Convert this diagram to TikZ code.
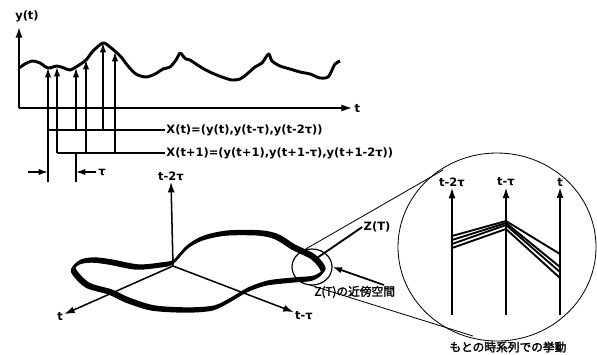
\documentclass[tikz,border=0pt]{standalone}
\usepackage{fontspec}
\setmainfont{DejaVu Sans}
\newfontfamily\jp[RawFeature={embolden=2}]{Noto Sans CJK JP}
\usetikzlibrary{arrows.meta, positioning, shapes.geometric}
\tikzset{
  axis/.style={line width=1.3pt, -{Latex[length=9pt,width=6pt]}},
  samp/.style={line width=1.2pt, -{Latex[length=8pt,width=5.5pt]}},
  lbl/.style={font=\bfseries\fontsize{9.8}{11}\selectfont, inner sep=1pt},
  jlbl/.style={font=\jp\fontsize{10}{11}\selectfont, inner sep=1pt},
  traj/.style={line width=2pt, line join=round},
}

\begin{document}
\begin{tikzpicture}[x=0.03cm, y=-0.03cm]
    \useasboundingbox (0,0) rectangle (597,354);

    % Time series y(t)
    \coordinate (o) at (19,108);
    \coordinate (ytop) at (19,27);
    \coordinate (tend) at (352,108);
    \draw[axis] (o) -- (ytop);
    \draw[axis] (o) -- (tend);
    \node[lbl] (ylab) at (27,16) {y(t)};
    \node[lbl, right=1pt of tend] (tlab) {t};
    \draw[traj, line width=2.5pt] plot[smooth] coordinates {(19,68) (25,64) (32,61) (40,63) (48,68) (57,66) (64,68) (70,70) (76,67) (86,60) (93,51) (103,43) (110,47) (116,52) (122,58) (128,66) (136,74) (146,77) (155,74) (163,69) (170,67) (176,60) (180,53) (183,56) (186,59) (190,60) (196,64) (204,69) (212,73) (222,77) (232,80) (240,79) (247,74) (255,67) (262,63) (266,57) (269,54) (272,61) (280,66) (290,69) (300,72) (310,74) (320,78) (328,77) (332,70) (335,64) (340,61)};

    % Delay vectors
    \node[lbl, anchor=west] (xt) at (165,130) {X(t)=(y(t),y(t-τ),y(t-2τ))};
    \node[lbl, anchor=west] (xt1) at (165,153) {X(t+1)=(y(t+1),y(t+1-τ),y(t+1-2τ))};
    \draw[line width=1.1pt] (48,130) -- (xt.west);
    \draw[line width=1.1pt] (57,153) -- (xt1.west);
    \foreach \x/\yb/\yt in {48/182/68, 76/130/68, 103/130/43, 57/153/67, 86/153/60, 115/153/52}
        \draw[samp] (\x,\yb) -- (\x,\yt);
    \draw[line width=1.1pt] (76,153) -- (76,182);

    % Delay tau
    \draw[samp] (28,172) -- (48,172);
    \draw[samp] (96,172) -- (76,172);
    \node[lbl, anchor=west] (tau) at (97,172) {τ};

    % Reconstructed state space
    \coordinate (O) at (173,266);
    \node[lbl] (a3) at (171,176) {t-2τ};
    \node[lbl] (a1) at (60,316) {t};
    \node[lbl] (a2) at (304,316) {t-τ};
    \draw[axis] (O) -- (a3.south);
    \draw[axis] (O) -- (a1);
    \draw[axis] (O) -- (a2);
    \foreach \dx/\dy in {0/0, 1.5/-1.5, -1/1.5}
        \draw[traj, shift={(\dx,\dy)}] plot[smooth cycle] coordinates {(73,270) (80,262) (93,260) (110,262) (137,267) (160,265) (173,262) (187,247) (203,238) (227,233) (260,233) (277,237) (293,247) (313,257) (323,270) (313,278) (293,280) (267,283) (247,290) (230,300) (213,308) (187,310) (153,308) (127,300) (110,292) (87,285)};

    % Neighbourhood of Z(T)
    \node[draw, ellipse, line width=1pt, minimum width=40*0.03cm, minimum height=36*0.03cm, inner sep=0pt] (nbh) at (312,267) {};
    \node[lbl] (zt) at (377,227) {Z(T)};
    \draw[line width=1.6pt] (314,260) -- (zt.west);
    \node[jlbl, anchor=west] (nblab) at (313,292) {Z(T)の近傍空間};
    \coordinate (nbtail) at (384,285);
    \draw[samp, line width=1.5pt] (nbtail) -- (nbh.east);

    % Magnified view
    \node[draw, ellipse, line width=0.7pt, minimum width=198*0.03cm, minimum height=188*0.03cm, inner sep=0pt] (mag) at (497,247) {};
    \draw[line width=0.7pt] (304,250) -- (443,170);
    \draw[line width=0.7pt] (310,285) -- (473,336);
    \node[lbl] (m1) at (452,182) {t-2τ};
    \node[lbl] (m2) at (506,182) {t-τ};
    \node[lbl] (m3) at (560,182) {t};
    \foreach \n/\x in {m1/452, m2/506, m3/560}
        \draw[axis] (\x,315) -- (\n.south);
    \foreach \ya/\yb/\yc in {236/221/254, 240/223/267, 244/225/272, 248/229/278}
        \draw[line width=1.6pt, line join=round] (452,\ya) -- (506,\yb) -- (560,\yc);
    \node[jlbl] (cap) at (508,347) {もとの時系列での挙動};
\end{tikzpicture}
\end{document}
